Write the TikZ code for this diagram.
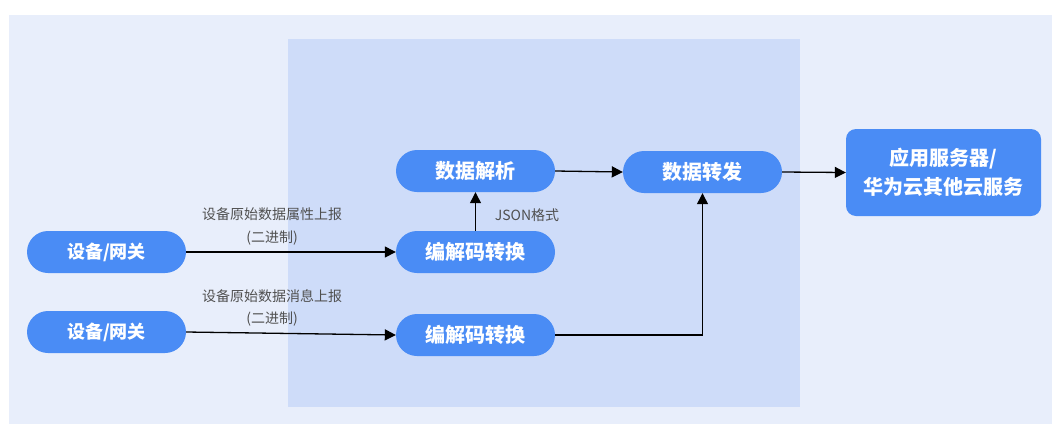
\documentclass[tikz,border=0pt]{standalone}
\usepackage{fontspec}
\setmainfont{Noto Sans CJK SC}
\usetikzlibrary{arrows.meta}
\definecolor{outerbg}{HTML}{E8EEFB}
\definecolor{innerbg}{HTML}{CEDCF9}
\definecolor{nodeblue}{HTML}{4A8CF5}
\definecolor{labelgray}{HTML}{505050}
\tikzset{
  pill/.style={fill=nodeblue, draw=none, rounded corners=21pt, minimum width=159pt, minimum height=42pt, inner sep=0pt, text=white, font=\fontsize{20}{24}\selectfont\bfseries},
  devpill/.style={pill, font=\fontsize{18}{22}\selectfont\bfseries},
  appbox/.style={fill=nodeblue, draw=none, rounded corners=10pt, minimum width=195pt, minimum height=87pt, inner sep=0pt, text=white, align=center, font=\fontsize{20}{29}\selectfont\bfseries},
  lbl/.style={text=labelgray, inner sep=0pt, font=\fontsize{14}{16}\selectfont},
  flow/.style={draw=black, line width=1.3pt, -{Triangle[length=11pt,width=11pt]}}
}
\begin{document}
\begin{tikzpicture}[x=1pt,y=-1pt]
\useasboundingbox (0,0) rectangle (1052,424);
\fill[white] (0,0) rectangle (1052,424);
\fill[outerbg] (9,15) rectangle (1052,424);
\fill[innerbg] (288,39) rectangle (800,407);

\node[devpill] (dev1) at (106.5,252) {设备/网关};
\node[devpill] (dev2) at (106.5,332) {设备/网关};
\node[pill] (parse) at (475.5,171) {数据解析};
\node[pill] (codec1) at (475.5,252) {编解码转换};
\node[pill] (codec2) at (475.5,335) {编解码转换};
\node[pill] (fwd) at (702.5,172) {数据转发};
\node[appbox] (app) at (943.5,172.5) {应用服务器/\\华为云其他云服务};

\node[lbl] (l1a) at (272,214) {设备原始数据属性上报};
\node[lbl] (l1b) at (272,238) {(二进制)};
\node[lbl] (l2a) at (272,296) {设备原始数据消息上报};
\node[lbl] (l2b) at (272,319) {(二进制)};
\node[lbl] (json) at (527,215) {JSON格式};

\draw[flow] (dev1.east) -- (codec1.west);
\draw[flow] (dev2.east) -- (codec2.west);
\draw[flow] (codec1.north) -- (parse.south);
\draw[flow] (parse.east) -- (fwd.west);
\draw[flow] (codec2.east) -| (fwd.south);
\draw[flow] (fwd.east) -- (app.west);
\end{tikzpicture}
\end{document}
